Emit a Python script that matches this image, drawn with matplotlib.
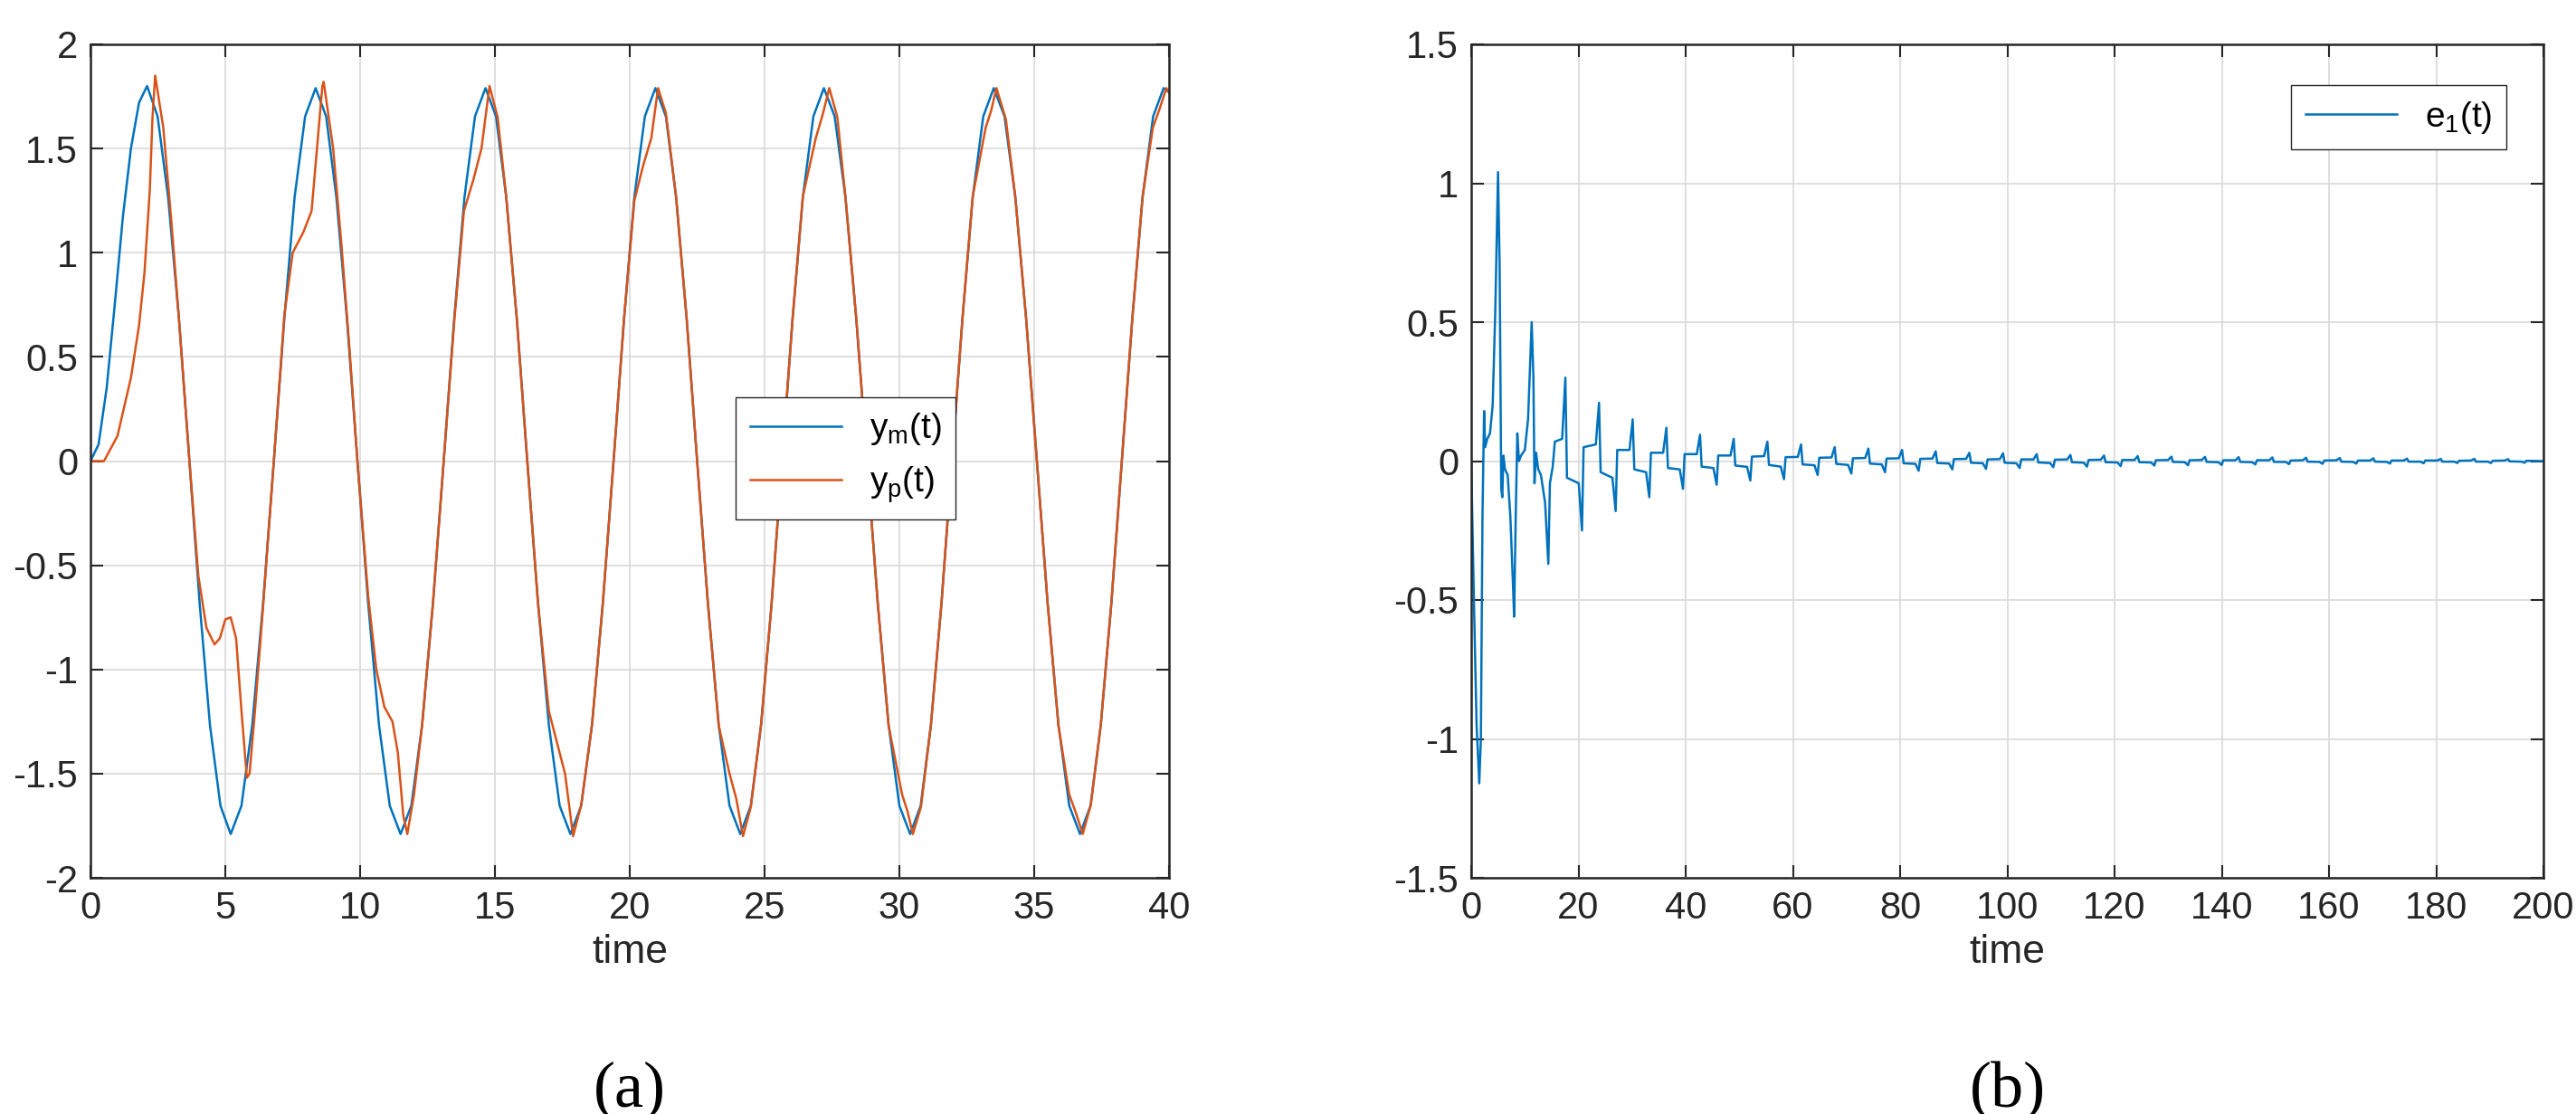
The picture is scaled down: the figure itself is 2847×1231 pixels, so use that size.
import matplotlib

matplotlib.use("Agg")
import matplotlib.pyplot as plt

BLUE = "#0072BD"
ORANGE = "#D95319"

# panel (a): model output y_m(t)
ym_t = [0, 0.3, 0.6, 0.9, 1.2, 1.5, 1.8, 2.1,
        2.49, 2.88, 3.28, 3.67, 4.05, 4.43, 4.82, 5.2,
        5.6, 6.0, 6.4, 6.8, 7.19, 7.57, 7.96, 8.35,
        8.74, 9.12, 9.51, 9.9, 10.3, 10.7, 11.1, 11.5,
        11.9, 12.3, 12.7, 13.1, 13.49, 13.87, 14.26, 14.65,
        15.04, 15.42, 15.81, 16.2, 16.6, 17.0, 17.4, 17.8,
        18.2, 18.6, 19.0, 19.4, 19.79, 20.17, 20.56, 20.95,
        21.34, 21.72, 22.11, 22.5, 22.9, 23.3, 23.7, 24.1,
        24.49, 24.87, 25.26, 25.65, 26.04, 26.42, 26.81, 27.2,
        27.6, 28.0, 28.4, 28.8, 29.2, 29.6, 30.0, 30.4,
        30.79, 31.17, 31.56, 31.95, 32.34, 32.72, 33.11, 33.5,
        33.9, 34.3, 34.7, 35.1, 35.5, 35.9, 36.3, 36.7,
        37.09, 37.47, 37.86, 38.25, 38.64, 39.02, 39.41, 39.8, 40.0]
ym_v = [0, 0.08, 0.35, 0.75, 1.17, 1.5, 1.72, 1.80,
        1.654, 1.266, 0.685, 0, -0.685, -1.266, -1.654, -1.79,
        -1.654, -1.266, -0.685, 0, 0.685, 1.266, 1.654, 1.79,
        1.654, 1.266, 0.685, 0, -0.685, -1.266, -1.654, -1.79,
        -1.654, -1.266, -0.685, 0, 0.685, 1.266, 1.654, 1.79,
        1.654, 1.266, 0.685, 0, -0.685, -1.266, -1.654, -1.79,
        -1.654, -1.266, -0.685, 0, 0.685, 1.266, 1.654, 1.79,
        1.654, 1.266, 0.685, 0, -0.685, -1.266, -1.654, -1.79,
        -1.654, -1.266, -0.685, 0, 0.685, 1.266, 1.654, 1.79,
        1.654, 1.266, 0.685, 0, -0.685, -1.266, -1.654, -1.79,
        -1.654, -1.266, -0.685, 0, 0.685, 1.266, 1.654, 1.79,
        1.654, 1.266, 0.685, 0, -0.685, -1.266, -1.654, -1.79,
        -1.654, -1.266, -0.685, 0, 0.685, 1.266, 1.654, 1.79, 1.77]

# panel (a): plant output y_p(t)
yp_t = [0, 0.5, 1.0, 1.5, 1.8, 2.0, 2.2, 2.3, 2.4,
        2.7, 3.0, 3.3, 3.67, 4.0, 4.3, 4.6, 4.8, 5.0, 5.2, 5.4, 5.6, 5.8, 5.9,
        6.1, 6.4, 6.8, 7.19, 7.5, 7.9, 8.2, 8.4, 8.6, 8.65,
        9.0, 9.3, 9.6, 9.9, 10.3, 10.6, 10.9, 11.2, 11.4, 11.6, 11.75,
        12.0, 12.3, 12.7, 13.1, 13.5, 13.85, 14.2, 14.5, 14.8,
        15.1, 15.42, 15.81, 16.2, 16.6, 17.0, 17.3, 17.6, 17.9,
        18.2, 18.6, 19.0, 19.4, 19.79, 20.17, 20.5, 20.8, 21.05,
        21.34, 21.72, 22.11, 22.5, 22.9, 23.3, 23.7, 23.95, 24.2,
        24.49, 24.87, 25.26, 25.65, 26.04, 26.42, 26.9, 27.15, 27.4,
        27.7, 28.0, 28.4, 28.8, 29.2, 29.6, 30.1, 30.3, 30.5,
        30.8, 31.17, 31.56, 31.95, 32.34, 32.72, 33.2, 33.4, 33.6,
        33.95, 34.3, 34.7, 35.1, 35.5, 35.9, 36.3, 36.55, 36.8,
        37.1, 37.47, 37.86, 38.25, 38.64, 39.02, 39.4, 39.65, 39.9, 40.0]
yp_v = [0, 0.0, 0.12, 0.4, 0.65, 0.9, 1.3, 1.65, 1.85,
        1.6, 1.15, 0.65, 0, -0.55, -0.8, -0.88, -0.85, -0.76, -0.75, -0.85, -1.2, -1.52, -1.5,
        -1.2, -0.7, 0, 0.7, 1.0, 1.1, 1.2, 1.5, 1.8, 1.82,
        1.5, 1.05, 0.55, 0, -0.65, -1.0, -1.18, -1.25, -1.4, -1.7, -1.79,
        -1.6, -1.266, -0.685, 0, 0.685, 1.2, 1.35, 1.5, 1.8,
        1.65, 1.266, 0.685, 0, -0.685, -1.2, -1.35, -1.5, -1.8,
        -1.65, -1.266, -0.685, 0, 0.685, 1.25, 1.42, 1.55, 1.79,
        1.67, 1.266, 0.685, 0, -0.685, -1.27, -1.5, -1.62, -1.8,
        -1.66, -1.266, -0.685, 0, 0.685, 1.27, 1.55, 1.66, 1.79,
        1.65, 1.266, 0.685, 0, -0.685, -1.27, -1.6, -1.68, -1.79,
        -1.66, -1.266, -0.685, 0, 0.685, 1.27, 1.6, 1.68, 1.79,
        1.64, 1.266, 0.685, 0, -0.685, -1.27, -1.6, -1.69, -1.79,
        -1.65, -1.266, -0.685, 0, 0.685, 1.27, 1.6, 1.69, 1.79, 1.77]

# panel (b): tracking error e_1(t)
e1_t = [0, 0.5, 1.0, 1.5, 1.8, 2.1, 2.4, 2.6, 3.0, 3.5, 4.0, 4.5, 5.0, 5.3, 5.6, 5.8,
        6.0, 6.3, 6.8, 7.3, 7.8, 8.0, 8.3, 8.6, 8.9, 9.3, 10.0, 10.6, 11.28, 11.6, 11.8,
        12.1, 12.5, 13.0, 13.78, 14.38, 14.68, 15.2, 15.6,
        16.96, 17.56, 17.86, 20.06, 20.66, 20.96,
        23.24, 23.84, 24.14, 26.34, 26.94, 27.24,
        29.52, 30.12, 30.42, 32.62, 33.22, 33.52,
        35.80, 36.40, 36.70, 38.90, 39.50, 39.80,
        42.08, 42.68, 42.98, 45.18, 45.78, 46.08,
        48.36, 48.96, 49.26, 51.46, 52.06, 52.36,
        54.64, 55.24, 55.54, 57.74, 58.34, 58.64,
        60.92, 61.52, 61.82, 64.02, 64.62, 64.92,
        67.20, 67.80, 68.10, 70.30, 70.90, 71.20,
        73.48, 74.08, 74.38, 76.58, 77.18, 77.48,
        79.76, 80.36, 80.66, 82.86, 83.46, 83.76,
        86.04, 86.64, 86.94, 89.14, 89.74, 90.04,
        92.32, 92.92, 93.22, 95.42, 96.02, 96.32,
        98.60, 99.20, 99.50, 101.70, 102.30, 102.60,
        104.88, 105.48, 105.78, 107.98, 108.58, 108.88,
        111.16, 111.76, 112.06, 114.26, 114.86, 115.16,
        117.44, 118.04, 118.34, 120.54, 121.14, 121.44,
        123.72, 124.32, 124.62, 126.82, 127.42, 127.72,
        130.00, 130.60, 130.90, 133.10, 133.70, 134.00,
        136.28, 136.88, 137.18, 139.38, 139.98, 140.28,
        142.56, 143.16, 143.46, 145.66, 146.26, 146.56,
        148.84, 149.44, 149.74, 151.94, 152.54, 152.84,
        155.12, 155.72, 156.02, 158.22, 158.82, 159.12,
        161.40, 162.00, 162.30, 164.50, 165.10, 165.40,
        167.68, 168.28, 168.58, 170.78, 171.38, 171.68,
        173.96, 174.56, 174.86, 177.06, 177.66, 177.96,
        180.24, 180.84, 181.14, 183.34, 183.94, 184.24,
        186.52, 187.12, 187.42, 189.62, 190.22, 190.52,
        192.80, 193.40, 193.70, 195.90, 196.50, 196.80, 200.0]
e1_v = [0, -0.5, -0.95, -1.16, -1.0, -0.2, 0.18, 0.05, 0.08, 0.1, 0.2, 0.55, 1.04, 0.7, -0.1, -0.13,
        0.02, -0.03, -0.05, -0.2, -0.45, -0.56, -0.2, 0.1, 0.0, 0.02, 0.04, 0.15, 0.5, 0.3, -0.08,
        0.03, -0.03, -0.05, -0.15, -0.37, -0.08, -0.02, 0.07,
        0.08, 0.30, -0.06, -0.08, -0.25, 0.05,
        0.06, 0.21, -0.04, -0.06, -0.18, 0.04,
        0.04, 0.15, -0.03, -0.04, -0.13, 0.03,
        0.03, 0.12, -0.025, -0.03, -0.10, 0.025,
        0.025, 0.095, -0.02, -0.025, -0.085, 0.02,
        0.02, 0.08, -0.016, -0.021, -0.07, 0.016,
        0.018, 0.07, -0.014, -0.02, -0.065, 0.014,
        0.015, 0.06, -0.012, -0.015, -0.05, 0.012,
        0.013, 0.05, -0.01, -0.014, -0.045, 0.01,
        0.011, 0.045, -0.009, -0.012, -0.04, 0.009,
        0.01, 0.04, -0.008, -0.01, -0.035, 0.008,
        0.009, 0.035, -0.007, -0.009, -0.03, 0.007,
        0.008, 0.03, -0.006, -0.008, -0.028, 0.006,
        0.007, 0.028, -0.006, -0.008, -0.025, 0.006,
        0.006, 0.025, -0.005, -0.007, -0.022, 0.005,
        0.006, 0.022, -0.004, -0.006, -0.02, 0.004,
        0.005, 0.02, -0.004, -0.005, -0.018, 0.004,
        0.004, 0.018, -0.004, -0.005, -0.016, 0.003,
        0.004, 0.016, -0.003, -0.004, -0.015, 0.003,
        0.004, 0.015, -0.003, -0.004, -0.014, 0.003,
        0.003, 0.014, -0.003, -0.004, -0.012, 0.003,
        0.003, 0.013, -0.003, -0.003, -0.011, 0.002,
        0.003, 0.012, -0.002, -0.003, -0.01, 0.002,
        0.003, 0.011, -0.002, -0.003, -0.009, 0.002,
        0.002, 0.01, -0.002, -0.003, -0.009, 0.002,
        0.002, 0.009, -0.002, -0.002, -0.008, 0.002,
        0.002, 0.008, -0.002, -0.002, -0.007, 0.001,
        0.002, 0.008, -0.002, -0.002, -0.007, 0.001,
        0.002, 0.007, -0.001, -0.002, -0.006, 0.001, 0.0]

plt.rcParams.update({"font.family": ["Liberation Sans", "DejaVu Sans"], "font.size": 30})

fig = plt.figure(figsize=(28.47, 12.31), dpi=100)
ax_a = fig.add_axes([100 / 2847, 1 - 970 / 1231, 1192 / 2847, 921 / 1231])
ax_b = fig.add_axes([1626 / 2847, 1 - 970 / 1231, 1185 / 2847, 921 / 1231])

ax_a.plot(ym_t, ym_v, color=BLUE, linewidth=1.8, label=r"y$_\mathregular{m}$(t)")
ax_a.plot(yp_t, yp_v, color=ORANGE, linewidth=1.8, label=r"y$_\mathregular{p}$(t)")
ax_a.set_xlim(0, 40)
ax_a.set_ylim(-2, 2)
ax_a.set_xticks(range(0, 41, 5))
ax_a.set_yticks([-2, -1.5, -1, -0.5, 0, 0.5, 1, 1.5, 2])
ax_a.set_yticklabels(["-2", "-1.5", "-1", "-0.5", "0", "0.5", "1", "1.5", "2"])
ax_a.legend(loc="upper left", bbox_to_anchor=(0.582, 0.598), fancybox=False,
            edgecolor="#262626", fontsize=28, handlelength=2.6, framealpha=1)

ax_b.plot(e1_t, e1_v, color=BLUE, linewidth=1.8, label=r"e$_\mathregular{1}$(t)")
ax_b.set_xlim(0, 200)
ax_b.set_ylim(-1.5, 1.5)
ax_b.set_xticks(range(0, 201, 20))
ax_b.set_yticks([-1.5, -1, -0.5, 0, 0.5, 1, 1.5])
ax_b.set_yticklabels(["-1.5", "-1", "-0.5", "0", "0.5", "1", "1.5"])
ax_b.legend(loc="upper right", bbox_to_anchor=(0.982, 0.972), fancybox=False,
            edgecolor="#262626", fontsize=28, handlelength=2.6, framealpha=1)

for ax, tag in ((ax_a, "(a)"), (ax_b, "(b)")):
    ax.grid(True, color="#d9d9d9", linewidth=1.2)
    ax.set_axisbelow(True)
    ax.tick_params(direction="in", length=10, width=1.5, top=True, right=True,
                   labelsize=30, colors="#262626", pad=10)
    for spine in ax.spines.values():
        spine.set_linewidth(1.8)
        spine.set_color("#262626")
    ax.set_xlabel("time", fontsize=32, color="#262626", labelpad=6)
    ax.text(0.5, -0.255, tag, transform=ax.transAxes, ha="center", va="center",
            fontsize=52, family="Liberation Serif")

fig.savefig("out.png", dpi=100)
